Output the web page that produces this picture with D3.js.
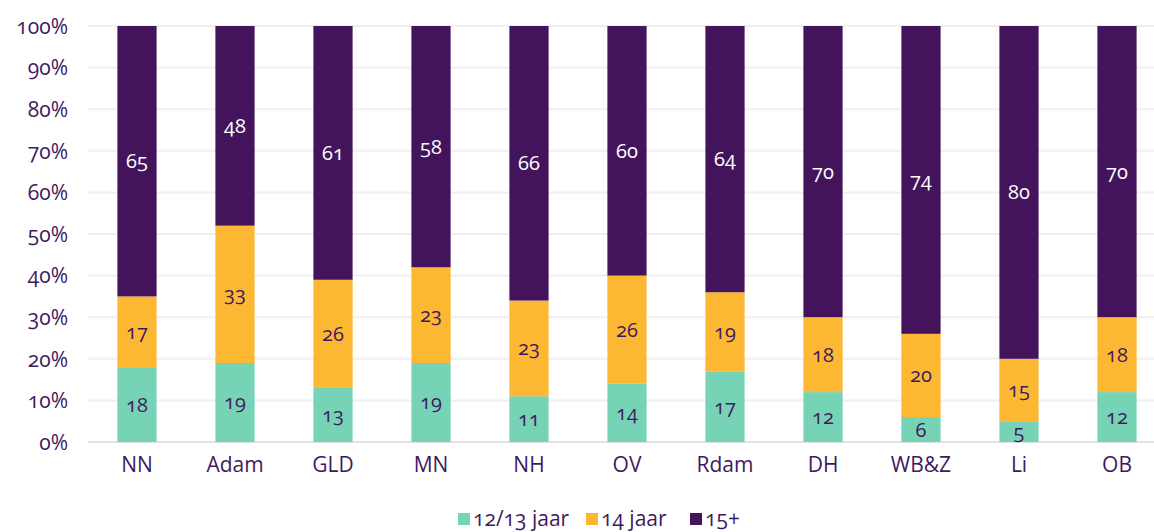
<!DOCTYPE html>
<html>
<head>
<meta charset="utf-8">
<script src="https://cdn.jsdelivr.net/npm/d3@7"></script>
<style>
  body { margin: 0; background: #fff; }
  svg text { font-family: "Open Sans", "Noto Sans", sans-serif; font-variant-numeric: oldstyle-nums; fill: #3f1a60; }
</style>
</head>
<body>
<div id="chart"></div>
<script>
var regions = ["NN", "Adam", "GLD", "MN", "NH", "OV", "Rdam", "DH", "WB&Z", "Li", "OB"];
var seriesNames = ["12/13 jaar", "14 jaar", "15+"];
var age1213 = [18, 19, 13, 19, 11, 14, 17, 12, 6, 5, 12];
var age14 = [17, 33, 26, 23, 23, 26, 19, 18, 20, 15, 18];
var age15plus = [65, 48, 61, 58, 66, 60, 64, 70, 74, 80, 70];
var yTicks = [0, 10, 20, 30, 40, 50, 60, 70, 80, 90, 100];

var colors = ["#76d3b6", "#fdb833", "#43145c"];

var width = 1154, height = 532;
var margin = {top: 26, right: -12, bottom: 90, left: 88};
var innerW = width - margin.left - margin.right,
    innerH = height - margin.top - margin.bottom;

var svg = d3.select("#chart").append("svg")
    .attr("width", width)
    .attr("height", height);

var g = svg.append("g")
    .attr("transform", "translate(" + margin.left + "," + margin.top + ")");

var rows = regions.map(function(r, i){
    return {region: r, "12/13 jaar": age1213[i], "14 jaar": age14[i], "15+": age15plus[i]};
});

var stack = d3.stack().keys(seriesNames)(rows);

var x = d3.scaleBand()
    .domain(regions)
    .range([0, innerW])
    .paddingInner(0.6)
    .paddingOuter(0.3);

var y = d3.scaleLinear()
    .domain([0, 100])
    .range([innerH, 0]);

// gridlines
g.selectAll(".grid")
    .data(yTicks)
    .enter().append("line")
    .attr("x1", 0)
    .attr("x2", innerW)
    .attr("y1", function(d){ return y(d); })
    .attr("y2", function(d){ return y(d); })
    .attr("stroke", function(d){ return d === 0 ? "#e2e2e2" : "#efefef"; })
    .attr("stroke-width", 2);

// y axis
var yAxis = g.append("g")
    .call(d3.axisLeft(y).tickValues(yTicks).tickFormat(function(d){ return d + "%"; }).tickSize(0).tickPadding(20));
yAxis.select(".domain").remove();
yAxis.selectAll("text").style("font-size", "21px").attr("dy", "0.35em");

// x axis
var xAxis = g.append("g")
    .attr("transform", "translate(0," + innerH + ")")
    .call(d3.axisBottom(x).tickSize(0).tickPadding(15));
xAxis.select(".domain").remove();
xAxis.selectAll("text").style("font-size", "21px");

// bars
var layers = g.selectAll(".layer")
    .data(stack)
    .enter().append("g")
    .attr("class", "layer")
    .attr("fill", function(d, i){ return colors[i]; });

layers.selectAll("rect")
    .data(function(d){ return d; })
    .enter().append("rect")
    .attr("x", function(d){ return x(d.data.region); })
    .attr("y", function(d){ return y(d[1]); })
    .attr("height", function(d){ return y(d[0]) - y(d[1]); })
    .attr("width", x.bandwidth());

layers.selectAll(".val")
    .data(function(d){ return d; })
    .enter().append("text")
    .attr("class", "val")
    .attr("x", function(d){ return x(d.data.region) + x.bandwidth() / 2; })
    .attr("y", function(d){ return y((d[0] + d[1]) / 2); })
    .attr("dy", "0.35em")
    .attr("text-anchor", "middle")
    .style("font-size", "20px")
    .style("fill", function(){ return d3.select(this.parentNode).datum().key === "15+" ? "#ffffff" : "#3f1a60"; })
    .text(function(d){ return d[1] - d[0]; });

// legend
var legend = svg.append("g").attr("transform", "translate(458,512)");
var offsets = [0, 128, 232];
seriesNames.forEach(function(name, i){
    var item = legend.append("g").attr("transform", "translate(" + offsets[i] + ",0)");
    item.append("rect").attr("width", 12).attr("height", 12).attr("y", 1).attr("fill", colors[i]);
    item.append("text").attr("x", 15).attr("y", 7).attr("dy", "0.35em")
        .style("font-size", "21px").text(name);
});
</script>
</body>
</html>
